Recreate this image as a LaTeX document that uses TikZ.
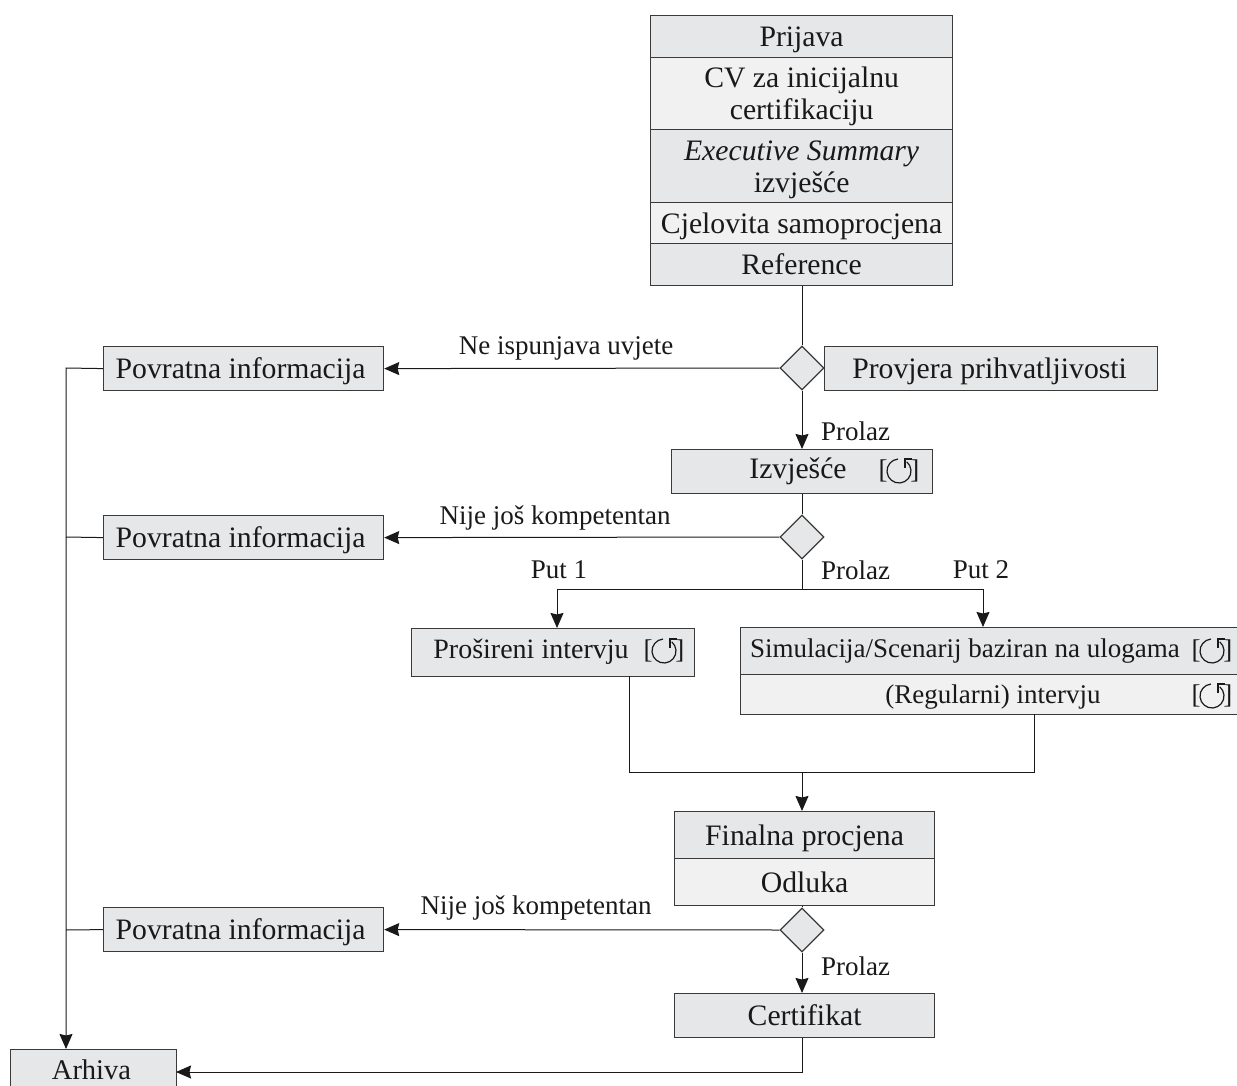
\documentclass[tikz,border=0pt]{standalone}
\usepackage{fontspec}
\setmainfont{Liberation Serif}
\usetikzlibrary{shapes.geometric,arrows.meta}
\definecolor{fillA}{HTML}{E6E7E8}
\definecolor{fillB}{HTML}{F1F1F2}
\definecolor{edge}{HTML}{3A3A3A}
\tikzset{
  x=1pt,y=-1pt,
  every node/.style={font=\fontsize{27}{32}\selectfont,text=black!90},
  boxA/.style={draw=edge,fill=fillA,line width=1.2pt,inner sep=0pt,align=center,font=\fontsize{29.7}{32}\selectfont},
  boxB/.style={boxA,fill=fillB},
  dec/.style={diamond,draw=edge,fill=fillA,line width=1.2pt,inner sep=0pt,minimum width=44pt,minimum height=44pt,aspect=1},
  lab/.style={inner sep=0pt},
  big/.style={lab,font=\fontsize{29.7}{32}\selectfont},
  mid/.style={lab,font=\fontsize{28}{32}\selectfont},
  arh/.style={lab,font=\fontsize{28.5}{32}\selectfont},
  conn/.style={draw=black!90,line width=1pt},
  arr/.style={conn,-{Stealth[length=15pt,width=13pt,inset=1.5pt]}},
  glyph/.style={draw=black!90,line width=1.2pt}
}
\newcommand{\bx}[7]{% style,name,x1,y1,x2,y2,text
  \node[#1,minimum width=#5pt-#3pt,minimum height=#6pt-#4pt,anchor=north west] (#2) at (#3,#4) {\rule{0pt}{28pt}#7\rule[-8pt]{0pt}{0pt}};}
\newcommand{\rep}[3]{% name,x,y : bracketed circular arrow
  \node[lab] (#1) at (#2,#3) {[\hspace{23pt}]};
  \draw[glyph] ([shift={(-95:12)}]#1.center) arc[start angle=-95,end angle=-410,radius=12];
  \draw[glyph] ([shift={(13,-12)}]#1.center) -- ([shift={(6,-12)}]#1.center) -- ([shift={(6,-3)}]#1.center);}
\begin{document}
\begin{tikzpicture}
\useasboundingbox (0,0) rectangle (1237,1086);
% top stack
\bx{boxA}{a1}{650}{15}{952}{57}{Prijava}
\bx{boxB}{a2}{650}{57}{952}{129}{CV za inicijalnu\\certifikaciju}
\bx{boxA}{a3}{650}{129}{952}{202}{\textit{Executive Summary}\\izvješće}
\bx{boxB}{a4}{650}{202}{952}{243}{Cjelovita samoprocjena}
\bx{boxA}{a5}{650}{243}{952}{285}{Reference}
% row 1
\node[dec] (d1) at (802,368) {};
\bx{boxA}{chk}{824}{346}{1157}{390}{Provjera prihvatljivosti\kern3pt}
\bx{boxA}{p1}{103}{346}{383}{390}{Povratna informacija\kern6pt}
% row 2
\bx{boxA}{izv}{671}{449}{932}{493}{}
\node[big] (izvT) at (798,471) {Izvješće};
\rep{izvR}{899}{471}
\node[dec] (d2) at (802,537) {};
\bx{boxA}{p2}{103}{515}{383}{559}{Povratna informacija\kern6pt}
% paths
\bx{boxA}{ext}{411}{628}{694}{676}{}
\node[mid] (extT) at (531,652) {Prošireni intervju};
\rep{extR}{664}{651}
\bx{boxA}{sim}{740}{627}{1237}{674}{}
\node[lab] (simT) at (965,651) {Simulacija/Scenarij baziran na ulogama};
\rep{simR}{1212}{651}
\bx{boxB}{reg}{740}{674}{1237}{714}{}
\node[lab] (regT) at (993,697) {(Regularni) intervju};
\rep{regR}{1212}{696}
% final
\bx{boxA}{fin}{674}{811}{934}{858}{Finalna procjena}
\bx{boxB}{odl}{674}{858}{934}{905}{Odluka}
\node[dec] (d3) at (802,930) {};
\bx{boxA}{p3}{103}{907}{383}{951}{Povratna informacija\kern6pt}
\bx{boxA}{cert}{674}{993}{934}{1037}{Certifikat}
\bx{boxA}{arh}{10}{1049}{176}{1096}{}
\node[arh] (arhT) at (91.5,1070) {Arhiva};
% labels
\node[lab] (l1) at (566,348) {Ne ispunjava uvjete};
\node[lab] (l2) at (555,518) {Nije još kompetentan};
\node[lab] (l3) at (536,908) {Nije još kompetentan};
\node[lab,anchor=west] (g1) at (821,431) {Prolaz};
\node[lab,anchor=west] (g2) at (821,570) {Prolaz};
\node[lab,anchor=west] (g3) at (821,966) {Prolaz};
\node[lab] (put1) at (559,570) {Put 1};
\node[lab] (put2) at (981,570) {Put 2};
% helper coordinates
\coordinate (t1) at (66,368);
\coordinate (t2) at (66,537);
\coordinate (t3) at (66,930);
\coordinate (t4) at (66,1049);
\coordinate (s0) at (802,589);
\coordinate (s1) at (557,589);
\coordinate (s2) at (983,589);
\coordinate (e1) at (557,628);
\coordinate (e2) at (983,627);
\coordinate (j0) at (802,772);
\coordinate (j1) at (629,772);
\coordinate (j2) at (1034,772);
\coordinate (x1) at (629,676);
\coordinate (x2) at (1034,714);
\coordinate (c0) at (802,1072);
\coordinate (c1) at (176,1072);
% connectors
\draw[conn] (a5.south -| d1) -- (d1.north);
\draw[arr] (d1.west) -- (p1.east);
\draw[arr] (d1.south) -- (izv.north -| d1);
\draw[conn] (izv.south -| d1) -- (d2.north);
\draw[arr] (d2.west) -- (p2.east);
\draw[conn] (d2.south) -- (s0);
\draw[arr] (s0) -- (s1) -- (e1);
\draw[arr] (s0) -- (s2) -- (e2);
\draw[conn] (x1) -- (j1) -- (j2) -- (x2);
\draw[arr] (j0) -- (fin.north -| j0);
\draw[arr] (d3.west) -- (p3.east);
\draw[arr] (d3.south) -- (cert.north -| d3);
\draw[arr] (cert.south -| d3) -- (c0) -- (c1);
\draw[conn] (odl.south -| d3) -- (d3.north);
\draw[arr] (p1.west) -- (t1) -- (t4);
\draw[conn] (p2.west) -- (t2);
\draw[conn] (p3.west) -- (t3);
\end{tikzpicture}
\end{document}
